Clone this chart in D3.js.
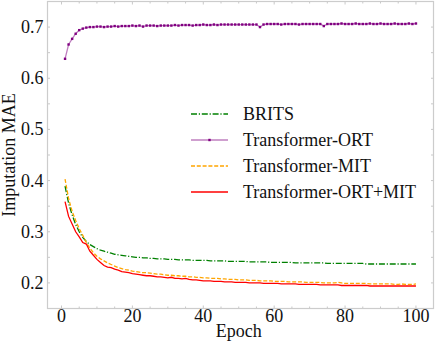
<!DOCTYPE html>
<html>
<head>
<meta charset="utf-8">
<script src="https://cdn.jsdelivr.net/npm/d3@7"></script>
<style>
  body { margin: 0; background: #fff; }
</style>
</head>
<body>
<div id="chart"></div>
<script>
let width = 436;
let height = 345;

// epochs 1..100
let epochs = d3.range(1, 101);

let series_names = ['BRITS', 'Transformer-ORT', 'Transformer-MIT', 'Transformer-ORT+MIT'];

let brits = [
  0.389, 0.356, 0.333, 0.314, 0.300, 0.289, 0.281, 0.275, 0.271, 0.267,
  0.264, 0.262, 0.260, 0.258, 0.256, 0.255, 0.254, 0.253, 0.252, 0.251,
  0.250, 0.250, 0.249, 0.249, 0.248, 0.248, 0.247, 0.247, 0.247, 0.246,
  0.246, 0.246, 0.245, 0.245, 0.245, 0.245, 0.244, 0.244, 0.244, 0.244,
  0.244, 0.243, 0.243, 0.243, 0.243, 0.243, 0.242, 0.242, 0.242, 0.242,
  0.242, 0.242, 0.241, 0.241, 0.241, 0.241, 0.241, 0.241, 0.240, 0.240,
  0.240, 0.240, 0.240, 0.240, 0.240, 0.239, 0.239, 0.239, 0.239, 0.239,
  0.239, 0.239, 0.239, 0.239, 0.238, 0.238, 0.238, 0.238, 0.238, 0.238,
  0.238, 0.238, 0.238, 0.238, 0.238, 0.237, 0.237, 0.237, 0.237, 0.237,
  0.237, 0.237, 0.237, 0.237, 0.237, 0.237, 0.237, 0.237, 0.237, 0.237
];

let ort = [
  0.638, 0.666, 0.677, 0.687, 0.694, 0.697, 0.699, 0.700, 0.700, 0.701,
  0.701, 0.700, 0.701, 0.701, 0.702, 0.701, 0.702, 0.702, 0.702, 0.703,
  0.702, 0.703, 0.701, 0.703, 0.703, 0.703, 0.702, 0.703, 0.703, 0.703,
  0.703, 0.704, 0.703, 0.704, 0.704, 0.704, 0.703, 0.704, 0.704, 0.705,
  0.704, 0.704, 0.705, 0.704, 0.705, 0.705, 0.705, 0.705, 0.705, 0.705,
  0.705, 0.705, 0.705, 0.705, 0.705, 0.700, 0.705, 0.706, 0.706, 0.706,
  0.706, 0.705, 0.706, 0.706, 0.706, 0.706, 0.705, 0.706, 0.706, 0.706,
  0.706, 0.706, 0.706, 0.702, 0.706, 0.706, 0.706, 0.706, 0.707, 0.706,
  0.706, 0.706, 0.707, 0.706, 0.706, 0.706, 0.707, 0.706, 0.706, 0.707,
  0.706, 0.706, 0.706, 0.707, 0.706, 0.706, 0.706, 0.707, 0.706, 0.707
];

let mit = [
  0.403, 0.365, 0.340, 0.322, 0.306, 0.293, 0.279, 0.268, 0.259, 0.252,
  0.247, 0.243, 0.239, 0.236, 0.233, 0.230, 0.228, 0.226, 0.225, 0.223,
  0.222, 0.221, 0.220, 0.220, 0.219, 0.218, 0.217, 0.217, 0.216, 0.215,
  0.215, 0.214, 0.214, 0.213, 0.213, 0.212, 0.212, 0.211, 0.211, 0.210,
  0.210, 0.209, 0.209, 0.209, 0.208, 0.208, 0.207, 0.207, 0.207, 0.206,
  0.206, 0.206, 0.205, 0.205, 0.205, 0.204, 0.204, 0.204, 0.204, 0.203,
  0.203, 0.203, 0.203, 0.202, 0.202, 0.202, 0.202, 0.202, 0.201, 0.201,
  0.201, 0.201, 0.201, 0.200, 0.200, 0.200, 0.200, 0.201, 0.200, 0.199,
  0.199, 0.199, 0.199, 0.199, 0.199, 0.199, 0.198, 0.198, 0.198, 0.198,
  0.198, 0.198, 0.198, 0.197, 0.197, 0.198, 0.197, 0.197, 0.197, 0.198
];

let ort_mit = [
  0.359, 0.330, 0.315, 0.300, 0.290, 0.279, 0.276, 0.262, 0.254, 0.246,
  0.240, 0.234, 0.231, 0.230, 0.227, 0.225, 0.222, 0.221, 0.220, 0.218,
  0.217, 0.216, 0.215, 0.214, 0.214, 0.213, 0.212, 0.212, 0.211, 0.210,
  0.211, 0.209, 0.209, 0.208, 0.209, 0.207, 0.206, 0.206, 0.205, 0.204,
  0.204, 0.204, 0.203, 0.203, 0.203, 0.202, 0.202, 0.202, 0.201, 0.201,
  0.201, 0.201, 0.200, 0.200, 0.200, 0.200, 0.199, 0.199, 0.199, 0.199,
  0.199, 0.198, 0.198, 0.198, 0.198, 0.198, 0.197, 0.197, 0.197, 0.197,
  0.197, 0.197, 0.196, 0.196, 0.196, 0.196, 0.196, 0.196, 0.195, 0.195,
  0.195, 0.195, 0.195, 0.195, 0.195, 0.195, 0.194, 0.194, 0.194, 0.194,
  0.194, 0.194, 0.194, 0.194, 0.194, 0.194, 0.194, 0.194, 0.194, 0.194
];

let x_ticks = [0, 20, 40, 60, 80, 100];
let y_ticks = [0.2, 0.3, 0.4, 0.5, 0.6, 0.7];

let styles = [
  {values: brits,   color: 'green',  dash: '6,1.8,1.2,1.8', opacity: 1},
  {values: ort,     color: 'purple', dash: null,             opacity: 0.5, marker: true},
  {values: mit,     color: 'orange', dash: '4,1.8',          opacity: 1},
  {values: ort_mit, color: 'red',    dash: null,             opacity: 1}
];

let margin = {left: 47.5, right: 2.5, top: 1.5, bottom: 36.5};
let serif = '"Liberation Serif", "Times New Roman", Times, "DejaVu Serif", serif';

let x = d3.scaleLinear()
          .domain([-3.95, 104.95])
          .range([margin.left, width - margin.right]);
let y = d3.scaleLinear()
          .domain([0.15, 0.75])
          .range([height - margin.bottom, margin.top]);

let svg = d3.select('#chart').append('svg')
            .attr('width', width)
            .attr('height', height)
            .attr('font-family', serif)
            .style('font-family', serif);

// minor/major ticks, drawn inward on all four sides
let tick_col = '#bbb';
let ax = svg.append('g').attr('stroke', tick_col).attr('stroke-width', 0.8);
d3.range(0, 101, 5).forEach(t => {
  let len = t % 20 == 0 ? 3 : 2;
  ax.append('line').attr('x1', x(t)).attr('x2', x(t)).attr('y1', y(0.15)).attr('y2', y(0.15) - len);
  ax.append('line').attr('x1', x(t)).attr('x2', x(t)).attr('y1', y(0.75)).attr('y2', y(0.75) + len);
});
d3.range(0.15, 0.751, 0.05).forEach(t => {
  let len = 2.5;
  ax.append('line').attr('y1', y(t)).attr('y2', y(t)).attr('x1', x.range()[0]).attr('x2', x.range()[0] + len);
  ax.append('line').attr('y1', y(t)).attr('y2', y(t)).attr('x1', x.range()[1]).attr('x2', x.range()[1] - len);
});

// frame
svg.append('rect')
   .attr('x', x.range()[0]).attr('y', y.range()[1])
   .attr('width', x.range()[1] - x.range()[0])
   .attr('height', y.range()[0] - y.range()[1])
   .attr('fill', 'none')
   .attr('stroke', '#ccc')
   .attr('stroke-width', 1.2);

// tick labels
svg.append('g').selectAll('text')
   .data(x_ticks)
   .join('text')
     .attr('x', d => x(d))
     .attr('y', 322)
     .attr('text-anchor', 'middle')
     .attr('font-size', 18)
     .attr('fill', '#111')
     .text(d => d);

svg.append('g').selectAll('text')
   .data(y_ticks)
   .join('text')
     .attr('x', 43.5)
     .attr('y', d => y(d) + 6)
     .attr('text-anchor', 'end')
     .attr('font-size', 18)
     .attr('fill', '#111')
     .text(d => d.toFixed(1));

// axis titles
svg.append('text')
   .attr('x', x(50)).attr('y', 337)
   .attr('text-anchor', 'middle')
   .attr('font-size', 18)
   .attr('fill', '#111')
   .text('Epoch');
svg.append('text')
   .attr('transform', `translate(15,${(y.range()[0] + y.range()[1]) / 2}) rotate(-90)`)
   .attr('text-anchor', 'middle')
   .attr('font-size', 18)
   .attr('fill', '#111')
   .text('Imputation MAE');

// lines
let line = d3.line()
             .x((d, i) => x(epochs[i]))
             .y(d => y(d));

let lines = svg.append('g');
styles.forEach(s => {
  lines.append('path')
       .datum(s.values)
       .attr('d', line)
       .attr('fill', 'none')
       .attr('stroke', s.color)
       .attr('stroke-opacity', s.opacity)
       .attr('stroke-width', 1.3)
       .attr('stroke-dasharray', s.dash);
  if (s.marker) {
    lines.append('g').selectAll('rect')
         .data(s.values)
         .join('rect')
           .attr('x', (d, i) => x(epochs[i]) - 1.2)
           .attr('y', d => y(d) - 1.2)
           .attr('width', 2.4)
           .attr('height', 2.4)
           .attr('fill', s.color);
  }
});

// legend
let leg = svg.append('g');
let leg_y = [114, 140, 166, 192];
styles.forEach((s, i) => {
  leg.append('line')
     .attr('x1', 191).attr('x2', 228)
     .attr('y1', leg_y[i]).attr('y2', leg_y[i])
     .attr('stroke', s.color)
     .attr('stroke-opacity', s.opacity)
     .attr('stroke-width', 1.3)
     .attr('stroke-dasharray', s.dash);
  if (s.marker) {
    leg.append('rect')
       .attr('x', 209.5 - 1.2).attr('y', leg_y[i] - 1.2)
       .attr('width', 2.4).attr('height', 2.4)
       .attr('fill', s.color);
  }
  leg.append('text')
     .attr('x', 243)
     .attr('y', leg_y[i] + 6)
     .attr('font-size', 18)
     .attr('fill', '#111')
     .text(series_names[i]);
});
</script>
</body>
</html>
